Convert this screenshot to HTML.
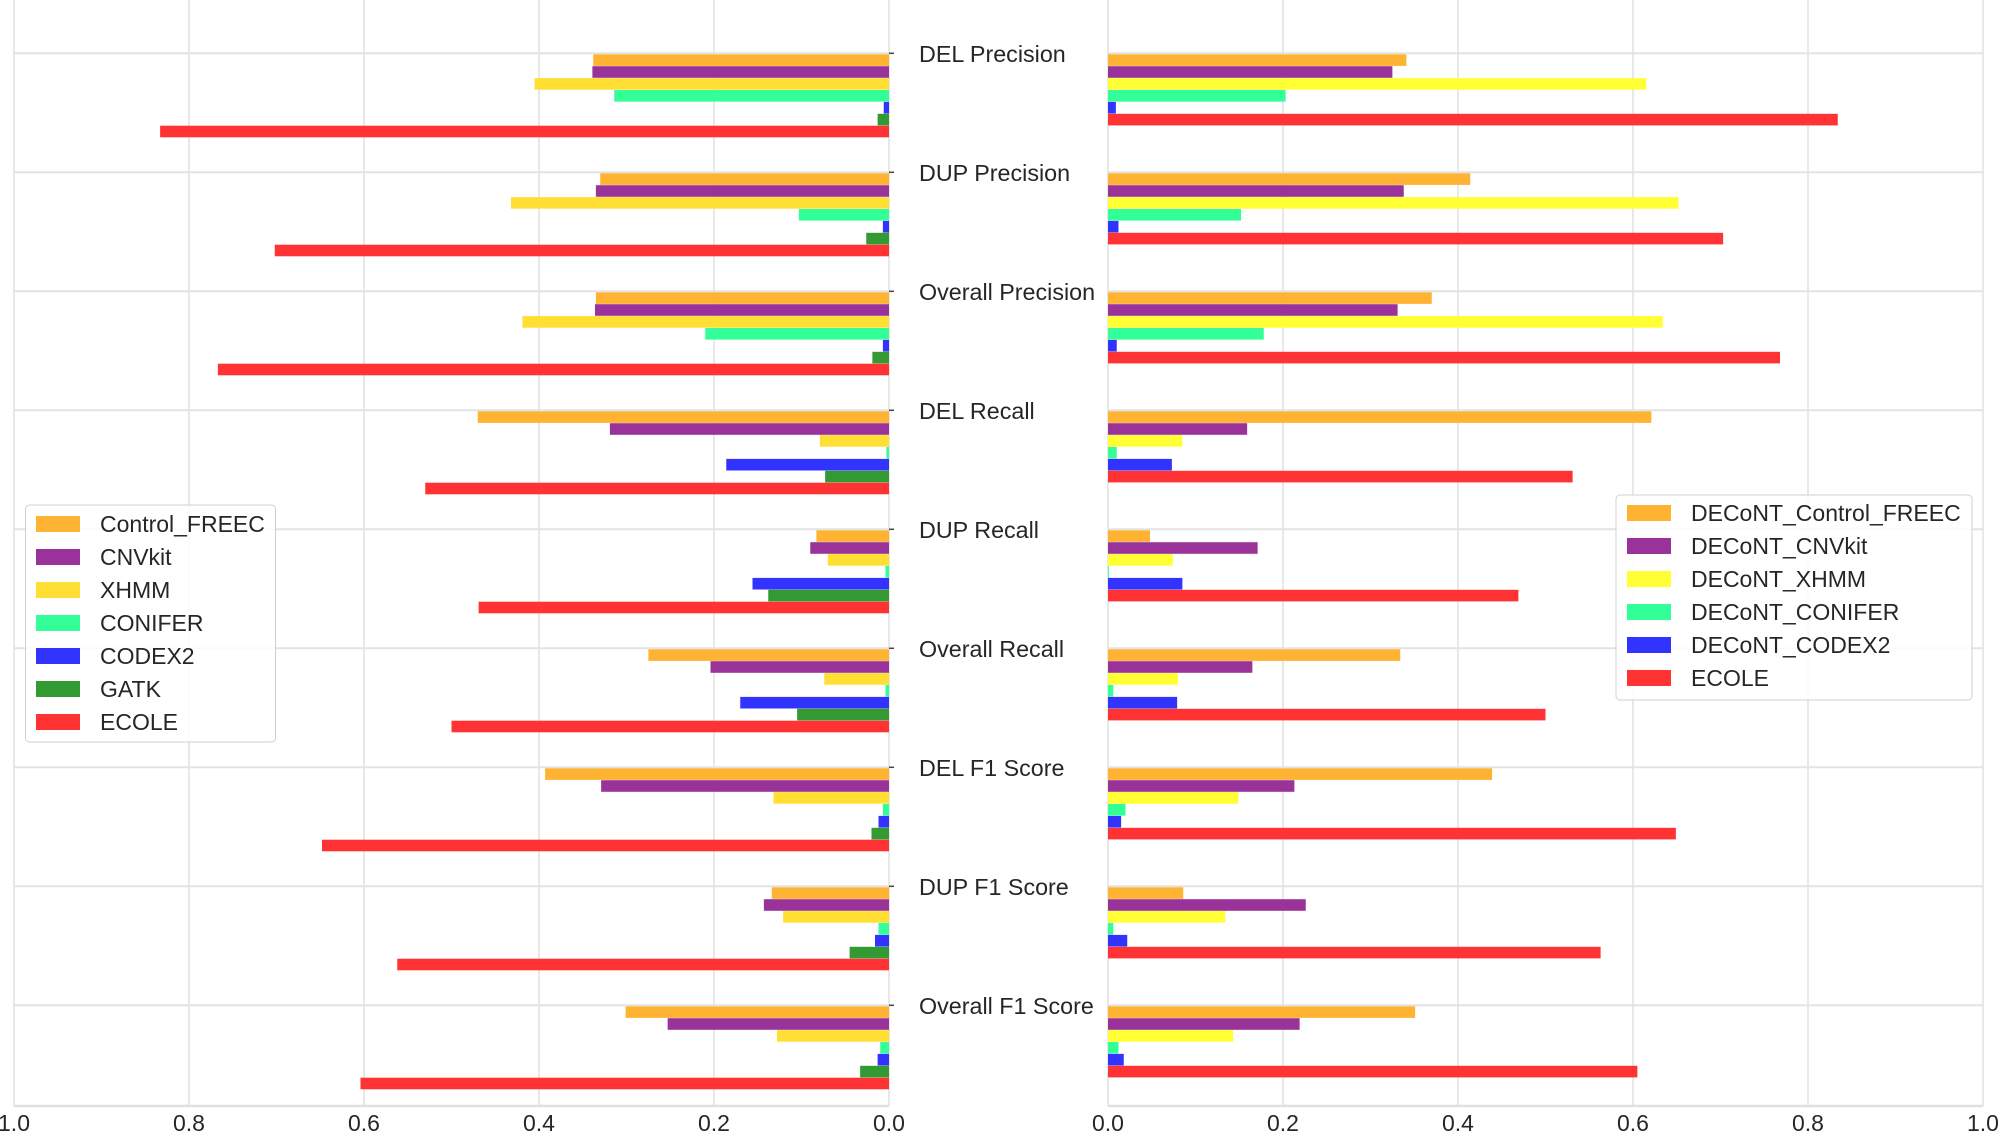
<!DOCTYPE html>
<html><head><meta charset="utf-8"><style>
html,body{margin:0;padding:0;background:#fff;}
svg text{font-family:"Liberation Sans",Arial,sans-serif;fill:#262626;}
</style></head><body>
<svg id="s" width="2000" height="1132" viewBox="0 0 2000 1132" xmlns="http://www.w3.org/2000/svg">
<g id="grid"></g>
<g id="bars"></g>
<g font-size="23.3" text-anchor="start">
<text x="919" y="62">DEL Precision</text>
<text x="919" y="181">DUP Precision</text>
<text x="919" y="300">Overall Precision</text>
<text x="919" y="419">DEL Recall</text>
<text x="919" y="538">DUP Recall</text>
<text x="919" y="657">Overall Recall</text>
<text x="919" y="776">DEL F1 Score</text>
<text x="919" y="895">DUP F1 Score</text>
<text x="919" y="1014">Overall F1 Score</text>
</g>
<g font-size="23" text-anchor="middle">
<text x="14" y="1131">1.0</text><text x="189" y="1131">0.8</text><text x="364" y="1131">0.6</text><text x="539" y="1131">0.4</text><text x="714" y="1131">0.2</text><text x="889" y="1131">0.0</text>
<text x="1108" y="1131">0.0</text><text x="1283" y="1131">0.2</text><text x="1458" y="1131">0.4</text><text x="1633" y="1131">0.6</text><text x="1808" y="1131">0.8</text><text x="1983" y="1131">1.0</text>
</g>
<g>
<rect x="25.5" y="505" width="250" height="237" rx="4" fill="#fff" fill-opacity="0.85" stroke="#d0d0d0"/>
<g font-size="23">
<rect x="36" y="516" width="44" height="16" fill="#ffb333"/><text x="100" y="532">Control_FREEC</text>
<rect x="36" y="549" width="44" height="16" fill="#9a3399"/><text x="100" y="565">CNVkit</text>
<rect x="36" y="582" width="44" height="16" fill="#ffdf33"/><text x="100" y="598">XHMM</text>
<rect x="36" y="615" width="44" height="16" fill="#33ff99"/><text x="100" y="631">CONIFER</text>
<rect x="36" y="648" width="44" height="16" fill="#3333ff"/><text x="100" y="664">CODEX2</text>
<rect x="36" y="681" width="44" height="16" fill="#339933"/><text x="100" y="697">GATK</text>
<rect x="36" y="714" width="44" height="16" fill="#ff3333"/><text x="100" y="730">ECOLE</text>
</g>
<rect x="1616" y="495" width="356" height="205" rx="4" fill="#fff" fill-opacity="0.85" stroke="#d0d0d0"/>
<g font-size="23">
<rect x="1627" y="505" width="44" height="16" fill="#ffb333"/><text x="1691" y="521">DECoNT_Control_FREEC</text>
<rect x="1627" y="538" width="44" height="16" fill="#9a3399"/><text x="1691" y="554">DECoNT_CNVkit</text>
<rect x="1627" y="571" width="44" height="16" fill="#ffff33"/><text x="1691" y="587">DECoNT_XHMM</text>
<rect x="1627" y="604" width="44" height="16" fill="#33ff99"/><text x="1691" y="620">DECoNT_CONIFER</text>
<rect x="1627" y="637" width="44" height="16" fill="#3333ff"/><text x="1691" y="653">DECoNT_CODEX2</text>
<rect x="1627" y="670" width="44" height="16" fill="#ff3333"/><text x="1691" y="686">ECOLE</text>
</g>
</g>
</svg>
<script>
var NS="http://www.w3.org/2000/svg";
function el(p,t,a){var e=document.createElementNS(NS,t);for(var k in a)e.setAttribute(k,a[k]);p.appendChild(e);return e;}
var g=document.getElementById("grid"),b=document.getElementById("bars");
var L0=889,R0=1108,U=875;
for(var i=1;i<=5;i++){
 el(g,"line",{x1:L0-U*i/5,x2:L0-U*i/5,y1:0,y2:1106,stroke:"#dcdcdc","stroke-width":1.3});
 el(g,"line",{x1:R0+U*i/5,x2:R0+U*i/5,y1:0,y2:1106,stroke:"#dcdcdc","stroke-width":1.3});
}
el(g,"line",{x1:L0,x2:L0,y1:0,y2:1106,stroke:"#dcdcdc","stroke-width":1.3});
el(g,"line",{x1:R0,x2:R0,y1:0,y2:1106,stroke:"#dcdcdc","stroke-width":1.3});
for(var k=0;k<9;k++){var y=53.3+119*k;
 el(g,"line",{x1:14,x2:L0,y1:y,y2:y,stroke:"#e3e3e3","stroke-width":2});
 el(g,"line",{x1:R0,x2:1983,y1:y,y2:y,stroke:"#e3e3e3","stroke-width":2});
 el(g,"line",{x1:L0,x2:L0+5,y1:y,y2:y,stroke:"#444","stroke-width":1.5});
}
el(g,"line",{x1:14,x2:L0,y1:1106,y2:1106,stroke:"#e0e0e0","stroke-width":2.5});
el(g,"line",{x1:R0,x2:1983,y1:1106,y2:1106,stroke:"#e0e0e0","stroke-width":2.5});
var LC=["#ffb333","#9a3399","#ffdf33","#33ff99","#3333ff","#339933","#ff3333"];
var RC=["#ffb333","#9a3399","#ffff33","#33ff99","#3333ff","#ff3333"];
var LV=[[.338,.339,.405,.314,.006,.013,.833],[.33,.335,.432,.103,.007,.026,.702],[.335,.336,.419,.21,.007,.019,.767],
[.47,.319,.079,.003,.186,.073,.53],[.083,.09,.07,.004,.156,.138,.469],[.275,.204,.074,.004,.17,.105,.5],
[.393,.329,.132,.007,.012,.02,.648],[.134,.143,.121,.012,.016,.045,.562],[.301,.253,.128,.01,.013,.033,.604]];
var RV=[[.341,.325,.615,.203,.009,.834],[.414,.338,.652,.152,.012,.703],[.37,.331,.634,.178,.01,.768],
[.621,.159,.085,.01,.073,.531],[.048,.171,.074,.001,.085,.469],[.334,.165,.08,.006,.079,.5],
[.439,.213,.149,.02,.015,.649],[.086,.226,.134,.006,.022,.563],[.351,.219,.143,.012,.018,.605]];
for(var k=0;k<9;k++){var y0=53.3+119*k+1;
 for(var j=0;j<7;j++){var w=LV[k][j]*U;el(b,"rect",{x:L0-w,y:y0+j*11.9,width:w,height:11.6,fill:LC[j]});}
 for(var j=0;j<6;j++){var w=RV[k][j]*U;el(b,"rect",{x:R0,y:y0+j*11.9,width:w,height:11.6,fill:RC[j]});}
}
</script>
</body></html>
